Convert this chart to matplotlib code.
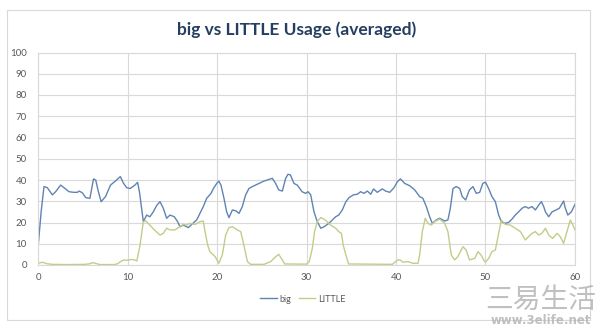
import matplotlib
matplotlib.use("Agg")
import matplotlib.pyplot as plt
from matplotlib.patches import Rectangle

# Averaged core usage (%) over time (s)
big_t = [0, 0.35, 0.67, 1.04, 1.6, 1.97, 2.53, 2.9, 3.46, 4.0, 4.4, 4.6, 4.95, 5.33, 5.8,
         6.2, 6.45, 6.7, 7.05, 7.55, 8.1, 8.7, 9.2, 9.55, 9.9, 10.3, 10.8, 11.13, 11.35,
         11.77, 12.14, 12.5, 12.88, 13.26, 13.63, 14.0, 14.37, 14.75, 15.23, 15.6, 15.86,
         16.24, 16.8, 17.17, 17.73, 18.1, 18.47, 18.85, 19.33, 19.6, 19.97, 20.2, 20.45,
         20.78, 21.08, 21.34, 21.72, 22.1, 22.46, 22.83, 23.2, 23.57, 23.95, 24.3, 24.7,
         25.25, 25.8, 26.18, 26.55, 26.9, 27.3, 27.67, 27.93, 28.2, 28.6, 28.97, 29.5, 29.9,
         30.17, 30.47, 30.84, 31.2, 31.6, 31.96, 32.5, 32.9, 33.26, 33.6, 34.0, 34.4, 34.75,
         35.23, 35.68, 36.05, 36.42, 36.8, 37.17, 37.5, 37.9, 38.47, 38.84, 39.3, 39.78,
         40.15, 40.5, 40.97, 41.53, 42.1, 42.64, 43.0, 43.39, 43.76, 44.06, 44.5, 44.88,
         45.44, 45.8, 46.07, 46.37, 46.74, 47.12, 47.4, 47.78, 48.2, 48.6, 48.97, 49.35,
         49.7, 50.0, 50.35, 50.72, 51.1, 51.47, 51.77, 52.2, 52.6, 52.96, 53.33, 53.7,
         54.08, 54.45, 54.8, 55.2, 55.57, 55.95, 56.24, 56.5, 56.7, 57.06, 57.43, 57.88,
         58.25, 58.73, 58.9, 59.2, 59.59, 60.0]
big_v = [8, 25, 36.9, 36.4, 33, 34.5, 37.6, 36.4, 34.5, 34.2, 34.2, 34.8, 34, 31.7, 31.4,
         40.5, 40, 35.3, 29.8, 32.2, 37.6, 39.7, 41.6, 38.5, 36.4, 36, 37.5, 38.9, 34,
         20.4, 23.5, 22.7, 25, 28, 29.8, 26.7, 22, 23.5, 22.7, 20.4, 18,
         18.8, 17.6, 19.1, 21.2, 24.3, 27.5, 31.4, 33.7, 36, 38.4, 39.5, 37.5,
         31.4, 25, 22.3, 25.9, 25.5, 24.3, 27.5, 33, 36, 36.9, 37.6, 38.4,
         39.5, 40.3, 40.8, 38.4, 35.3, 34.8, 40.8, 42.7, 42.4, 38.4, 37.6, 34.5, 33.7,
         34.5, 33, 25, 20.4, 17.3, 18, 19.6, 21.2, 22.7, 23.5, 25.9, 29.8, 31.7,
         33, 33.3, 34.5, 33.7, 34.8, 33.3, 35.8, 34.2, 35.8, 34.8, 34.2, 36.4,
         39.2, 40.5, 38.4, 37.3, 35.3, 32.2, 31.4, 27.5, 22.7, 19.6, 21.2, 22,
         20.7, 21.2, 26.7, 36, 36.9, 36, 32.2, 30.6, 35.3, 36.9, 33.7, 34.2,
         38.4, 39, 36, 32.2, 29.8, 23.5, 20.4, 19.6, 20.1, 21.6, 23.5, 25,
         26.7, 27.5, 26.7, 27.5, 25.9, 28.2, 29.8, 27.5, 25, 22.7, 25, 25.9,
         26.7, 30.1, 27, 23.5, 25, 28.5]

little_t = [0, 0.48, 1.0, 1.6, 3.0, 5.3, 5.8, 6.07, 6.4, 6.9, 8.5, 8.9, 9.23, 9.6, 9.9,
            10.5, 10.8, 11.05, 11.4, 11.77, 12.03, 12.5, 13.0, 13.63, 14.0, 14.37, 14.75,
            15.3, 15.68, 16.24, 16.6, 16.98, 17.55, 18.1, 18.47, 18.66, 18.96, 19.2, 19.8,
            20.2, 20.59, 20.97, 21.34, 21.72, 22.27, 22.65, 23.0, 23.4, 23.76, 25.25, 26.0,
            26.55, 26.9, 27.3, 27.56, 30.0, 30.3, 30.65, 30.9, 31.2, 31.6, 31.96, 32.3, 32.7,
            33.26, 33.6, 33.9, 34.1, 34.4, 34.7, 39.6, 39.95, 40.22, 40.45, 40.78, 41.34,
            41.9, 42.46, 42.64, 42.94, 43.27, 43.57, 43.95, 44.3, 44.88, 45.44, 45.8, 46.18,
            46.55, 46.9, 47.48, 47.85, 48.2, 48.8, 49.16, 49.5, 49.9, 50.05, 50.35, 50.72,
            51.1, 51.47, 51.77, 52.2, 52.77, 53.33, 53.9, 54.45, 54.8, 55.2, 55.57, 55.95,
            56.3, 56.7, 57.06, 57.5, 58.0, 58.36, 58.73, 59.1, 59.48, 59.85, 60.0]
little_v = [0.8, 1.3, 0.6, 0.3, 0.2, 0.3, 0.6, 1.1, 0.8, 0.2, 0.2, 0.6, 1.6, 2.4, 2.2,
            2.6, 2.4, 1.9, 9.4, 20.4, 20.7, 18.8, 16.5, 14.1, 14.9, 17.3, 16.5,
            16.5, 17.6, 19.1, 18.8, 19.6, 19.1, 20.4, 20.7, 15.7, 9.4, 6.3, 3.9,
            0.8, 4.7, 14.1, 17.6, 18, 16.5, 15.7, 9.4, 1.6, 0.3, 0.3, 1.6,
            3.9, 5, 2.4, 0.5, 0.4, 1.6, 7.8, 15.7, 20.4, 22.3, 21.6, 20.4, 18.8,
            17.3, 15.7, 14.9, 9.4, 4.7, 0.5, 0.3, 1.6, 2.4, 2.4, 1.3, 1.6,
            0.8, 0.8, 4.7, 15.7, 22, 19.6, 18.8, 20.4, 21.6, 19.6, 15.7, 4.7,
            2.4, 3.9, 8.6, 7, 2.4, 3.1, 6.3, 4.7, 1.6, 1.6, 3.1, 6.3,
            7, 14.9, 21.2, 19.1, 18.8, 17.3, 15.7, 11.8, 13.3, 14.9, 15.7, 14.1,
            14.9, 17.3, 14.1, 12.5, 14.9, 13.3, 10.2, 15.7, 21.2, 18, 16.5]

x_ticks = [0, 10, 20, 30, 40, 50, 60]
y_ticks = [0, 10, 20, 30, 40, 50, 60, 70, 80, 90, 100]

BIG_COLOR = "#5f84b4"
LITTLE_COLOR = "#c3cc88"
GRID = "#d9d9d9"
TICK = "#595959"

plt.rcParams["font.family"] = ["Lato", "DejaVu Sans"]

fig = plt.figure(figsize=(6.0, 3.26), dpi=100)
fig.patch.set_facecolor("white")

# chart frame
fig.patches.append(Rectangle((7 / 600, 1 - 320 / 326), 583 / 600, 310 / 326,
                             transform=fig.transFigure, fill=False,
                             edgecolor="#d9d9d9", linewidth=0.8))

ax = fig.add_axes([38 / 600, 1 - 265 / 326, 537 / 600, 212.5 / 326])
ax.plot(big_t, big_v, color=BIG_COLOR, linewidth=1.0, label="big")
ax.plot(little_t, little_v, color=LITTLE_COLOR, linewidth=1.0, label="LITTLE")

ax.set_xlim(0, 60)
ax.set_ylim(0, 100)
ax.set_xticks(x_ticks)
ax.set_yticks(y_ticks)
ax.grid(True, color=GRID, linewidth=0.8)
ax.set_axisbelow(True)
for s in ax.spines.values():
    s.set_color(GRID)
    s.set_linewidth(0.8)
ax.tick_params(length=0, labelsize=7, colors=TICK)
ax.tick_params(axis="y", pad=8)
ax.tick_params(axis="x", pad=6)

fig.text(0.495, 1 - 30 / 326, "big vs LITTLE Usage (averaged)", ha="center", va="center",
         fontsize=12.5, fontweight="bold", color="#243f60")

leg = fig.legend(loc="center", bbox_to_anchor=(0.505, 1 - 299 / 326), ncol=2, frameon=False,
                 fontsize=6.5, handlelength=1.8, handletextpad=0.3, columnspacing=0.9)
for t in leg.get_texts():
    t.set_color(TICK)

# site watermark
fig.text(541 / 600, 1 - 300 / 326, "三易生活", ha="center", va="center", fontsize=20,
         color="#b5b5b5", family=["Noto Sans CJK SC", "DejaVu Sans"], alpha=0.85)
fig.text(541 / 600, 1 - 320 / 326, "www.3elife.net", ha="center", va="center", fontsize=8.5,
         fontweight="bold", color="#b5b5b5", family=["DejaVu Sans"], alpha=0.85)

fig.savefig("out.png", dpi=100, facecolor="white")
